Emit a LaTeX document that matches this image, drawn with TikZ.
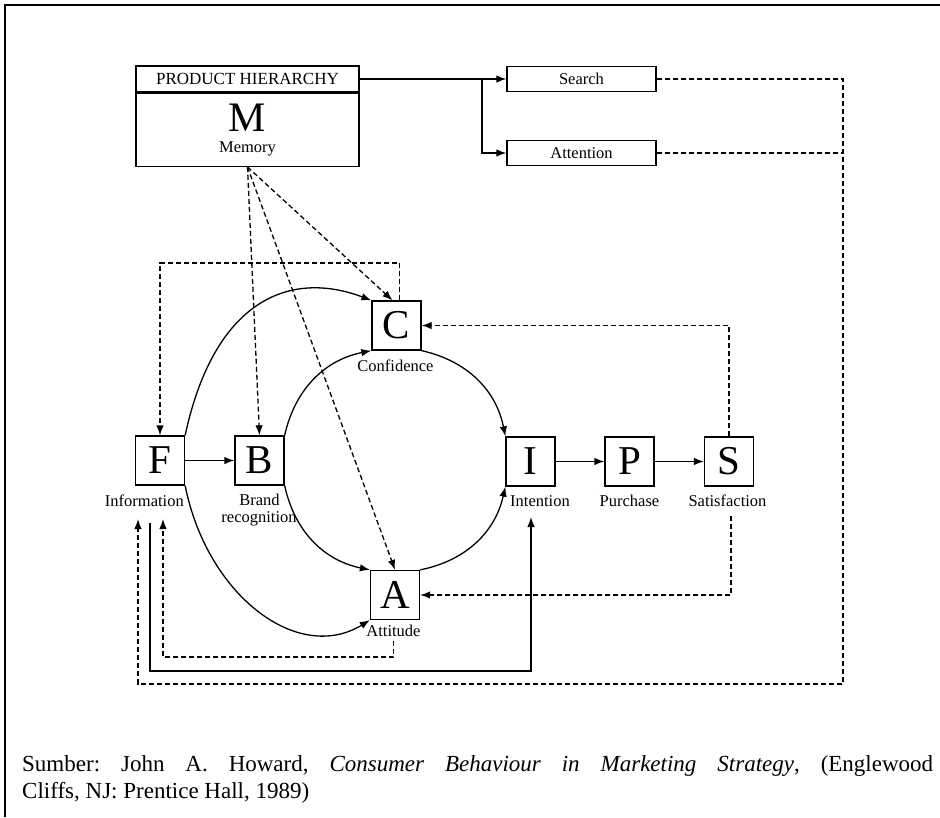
\documentclass[tikz,border=0pt]{standalone}
\usepackage{fontspec}
\setmainfont{Liberation Serif}
\usetikzlibrary{arrows.meta,calc}
\begin{document}
\frenchspacing
\begin{tikzpicture}[x=1pt,y=1pt,
  box/.style={draw, line width=1.3pt, minimum width=49pt, minimum height=49pt, inner sep=0pt, font=\fontsize{41}{41}\selectfont},
  lbl/.style={inner sep=0pt, font=\fontsize{16.5}{18}\selectfont},
  sbox/.style={draw, line width=1.3pt, minimum width=149pt, minimum height=25pt, inner sep=0pt, font=\fontsize{16.5}{18}\selectfont},
  conn/.style={line width=1.3pt, -{Latex[length=10pt,width=7.5pt]}},
  dconn/.style={conn, dash pattern=on 5pt off 3pt},
  dline/.style={line width=1.3pt, dash pattern=on 5pt off 3pt},
  captxt/.style={anchor=base west, inner sep=0pt, font=\fontsize{23}{27}\selectfont}
]
\useasboundingbox (0,0) rectangle (940,-817);
\draw[line width=1.8pt] (5,-817) -- (5,-5) -- (940,-5);

% product hierarchy
\node[draw, line width=1.3pt, minimum width=223pt, minimum height=26pt, inner sep=0pt, font=\fontsize{17}{18}\selectfont] (HDR) at (247.5,-79) {PRODUCT HIERARCHY};
\node[draw, line width=1.3pt, minimum width=223pt, minimum height=73pt, inner sep=0pt, anchor=north] (MEM) at (HDR.south) {};
\node[anchor=base, inner sep=0pt, font=\fontsize{42}{42}\selectfont] (Mlet) at (247.5,-131) {M};
\node[lbl, anchor=base] (Mlbl) at (247.5,-152) {Memory};

\node[sbox] (SR) at (581.5,-79) {Search};
\node[sbox] (AT) at (581.5,-153) {Attention};

% boxes
\node[box] (F) at (160,-460.5) {F};
\node[box] (B) at (259.5,-460.5) {B};
\node[box] (C) at (396.5,-325.5) {C};
\node[box] (A) at (395,-595) {A};
\node[box] (I) at (530.5,-461.5) {I};
\node[box] (P) at (629.5,-461.5) {P};
\node[box] (S) at (729,-461.5) {S};

% labels
\node[lbl, anchor=base east] (Flbl) at (184,-506) {Information};
\node[lbl, anchor=base] (Blbl1) at (259.5,-505) {Brand};
\node[lbl, anchor=base] (Blbl2) at (259,-522) {recognition};
\node[lbl, anchor=base] (Clbl) at (395.5,-371) {Confidence};
\node[lbl, anchor=base] (Albl) at (393.5,-636) {Attitude};
\node[lbl, anchor=base] (Ilbl) at (540,-506) {Intention};
\node[lbl, anchor=base] (Plbl) at (629.5,-506) {Purchase};
\node[lbl, anchor=base] (Slbl) at (727.5,-506) {Satisfaction};

% coordinates
\coordinate (J) at (482,-79);
\coordinate (RT) at (843,-79);
\coordinate (RB) at (843,-684);
\coordinate (FL1) at (138,-519);
\coordinate (FL2) at (163,-519);
\coordinate (FL3) at (150,-523);
\coordinate (IL) at (531,-517);
\coordinate (CFtop) at (0,-263);
\coordinate (Sb) at (731,-516);
\coordinate (Ab) at (393.5,-641);

% top connectors
\draw[conn] (HDR.east) -- (SR.west);
\draw[conn] (J) |- (AT.west);
\draw[dconn] (SR.east) -- (RT) -- (RB) -| (FL1);
\draw[dline] (AT.east) -- (AT.east -| RT);

% memory dashed
\draw[dconn] (MEM.south) -- (B.north);
\draw[dconn] (MEM.south) -- (A.north);
\draw[dconn] (MEM.south) -- ([xshift=-4pt]C.north);
\draw[dconn] ([xshift=3pt]C.north) |- (CFtop -| F.north) -- (F.north);

% straight arrows
\draw[conn] (F) -- (B);
\draw[conn] (I) -- (P);
\draw[conn] (P) -- (S);

% circle arcs
\draw[conn] (B.north east) to[bend left=33] (C.south west);
\draw[conn] (C.south east) to[bend left=33] (I.north west);
\draw[conn] (A.north east) to[bend right=33] (I.south west);
\draw[conn] (B.south east) to[bend right=33] (A.north west);

% outer arcs
\draw[conn] (F.north east) .. controls +(29,135) and +(-82,31) .. (C.north west);
\draw[conn] (F.south east) .. controls +(22,-110) and +(-72,-44) .. (A.south west);

% feedback from S
\draw[dconn] (S.north) |- (C.east);
\draw[dconn] (Sb) |- (A.east);

% bottom loops
\draw[dconn] (Ab) -- (393.5,-657) -| (FL2);
\draw[conn] (FL3) -- (150,-671) -| (IL);

% caption
\node[captxt] (cap1) at (22,-771) {\makebox[911pt][s]{Sumber: John A. Howard, \textit{Consumer Behaviour in Marketing Strategy}, (Englewood}};
\node[captxt] (cap2) at (22,-798) {Cliffs, NJ: Prentice Hall, 1989)};
\end{tikzpicture}
\end{document}
